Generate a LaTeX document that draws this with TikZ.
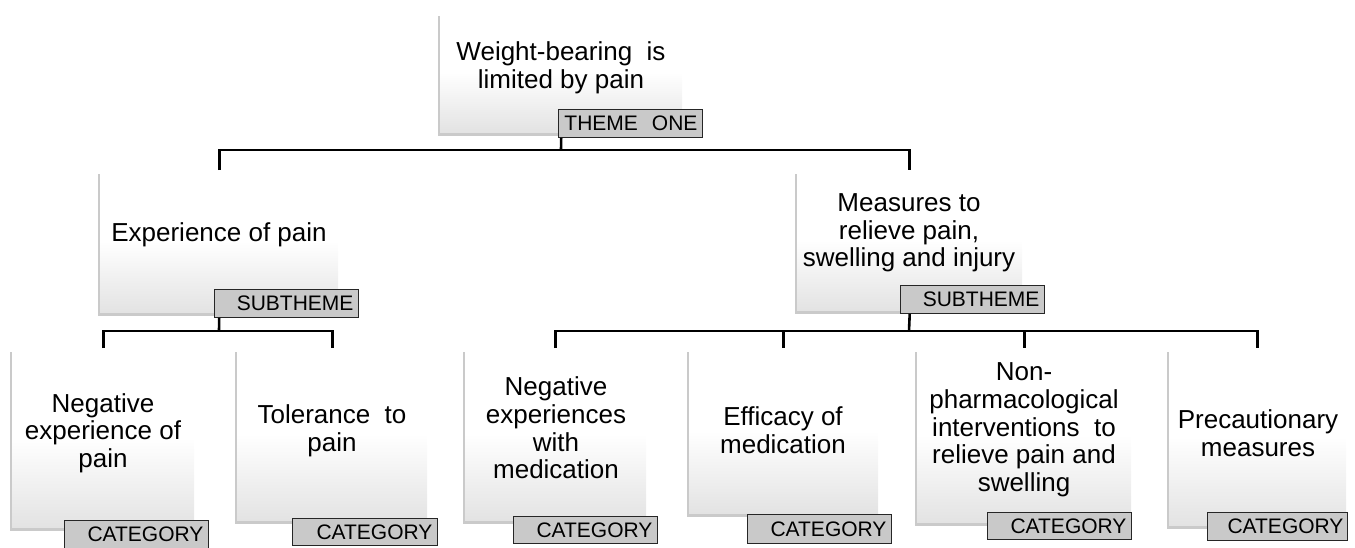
\documentclass[tikz,border=0pt]{standalone}
\usepackage{fontspec}
\setmainfont{Liberation Sans}
\usetikzlibrary{shadows}
\begin{document}
\begin{tikzpicture}[x=1pt,y=-1pt,
  box/.style={inner sep=0pt, anchor=north west, top color=white, bottom color=black!11, middle color=white,
    drop shadow={shadow xshift=-2pt, shadow yshift=-3.5pt, opacity=0.35, fill=black!60}},
  txt/.style={align=center, font=\fontsize{26}{27.7}\selectfont, inner sep=0pt},
  lbl/.style={anchor=north west, draw=black!85, line width=0.9pt, fill=black!21, inner xsep=5pt, inner ysep=0pt,
    align=right, font=\fontsize{21}{22}\selectfont},
  conn/.style={line width=2.6pt, line join=miter}]
\useasboundingbox (0,0) rectangle (1355,547);

% boxes
\node[box, minimum width=242pt, minimum height=120pt] (top) at (440,12) {};
\node[box, minimum width=238pt, minimum height=142pt] (exp) at (100,170) {};
\node[box, minimum width=225pt, minimum height=140pt] (meas) at (797,170) {};
\node[box, minimum width=182pt, minimum height=179pt] (b1) at (12,348) {};
\node[box, minimum width=190pt, minimum height=172pt] (b2) at (237,348) {};
\node[box, minimum width=181pt, minimum height=172pt] (b3) at (465,348) {};
\node[box, minimum width=189pt, minimum height=165pt] (b4) at (689,348) {};
\node[box, minimum width=214pt, minimum height=174pt] (b5) at (917,348) {};
\node[box, minimum width=177pt, minimum height=177pt] (b6) at (1169,348) {};

% text
\node[txt] (topt) at (561,68) {Weight-bearing\ \ is\\limited by pain};
\node[txt] (expt) at (219,235) {Experience\ of\ pain};
\node[txt] (meast) at (909,233) {Measures\ to\\relieve\ pain,\\swelling and injury};
\node[txt] (b1t) at (103,433) {Negative\\experience\ of\\pain};
\node[txt] (b2t) at (332,431) {Tolerance\ \ to\\pain};
\node[txt] (b3t) at (556,428) {Negative\\experiences\\with\\medication};
\node[txt] (b4t) at (783,430) {Efficacy of\\medication};
\node[txt] (b5t) at (1024,430) {Non-\\pharmacological\\interventions\ \ to\\relieve\ pain and\\swelling};
\node[txt] (b6t) at (1258,433) {Precautionary\\measures};

% labels
\node[lbl, minimum width=144pt, text width=134pt, minimum height=28pt] (toplbl) at (558,109) {THEME\ \ ONE};
\node[lbl, minimum width=144pt, text width=134pt, minimum height=28pt] (explbl) at (214,289) {SUBTHEME};
\node[lbl, minimum width=144pt, text width=134pt, minimum height=28pt] (measlbl) at (900,285) {SUBTHEME};
\node[lbl, minimum width=144pt, text width=134pt, minimum height=28pt] (b1lbl) at (64,520) {CATEGORY};
\node[lbl, minimum width=145pt, text width=135pt, minimum height=27pt] (b2lbl) at (292,518) {CATEGORY};
\node[lbl, minimum width=144pt, text width=134pt, minimum height=27pt] (b3lbl) at (513,516) {CATEGORY};
\node[lbl, minimum width=144pt, text width=134pt, minimum height=29pt] (b4lbl) at (747,514) {CATEGORY};
\node[lbl, minimum width=144pt, text width=134pt, minimum height=27pt] (b5lbl) at (987,512) {CATEGORY};
\node[lbl, minimum width=140pt, text width=132pt, minimum height=28pt, inner xsep=4pt] (b6lbl) at (1207,512) {CATEGORY};

% connectors
\coordinate (j1) at (561,150);
\coordinate (j2) at (219,331);
\coordinate (j3) at (909,331);
\draw[conn] (top.south |- toplbl.south) -- (j1);
\draw[conn] (exp.north) -- (exp.north |- j1) -- (meas.north |- j1) -- (meas.north);
\draw[conn] (exp.south |- explbl.south) -- (j2);
\draw[conn] (b1.north) -- (b1.north |- j2) -- (b2.north |- j2) -- (b2.north);
\draw[conn] (meas.south |- measlbl.south) -- (j3);
\draw[conn] (b3.north) -- (b3.north |- j3) -- (b6.north |- j3) -- (b6.north);
\draw[conn] (b4.north |- j3) -- (b4.north);
\draw[conn] (b5.north |- j3) -- (b5.north);
\end{tikzpicture}
\end{document}
